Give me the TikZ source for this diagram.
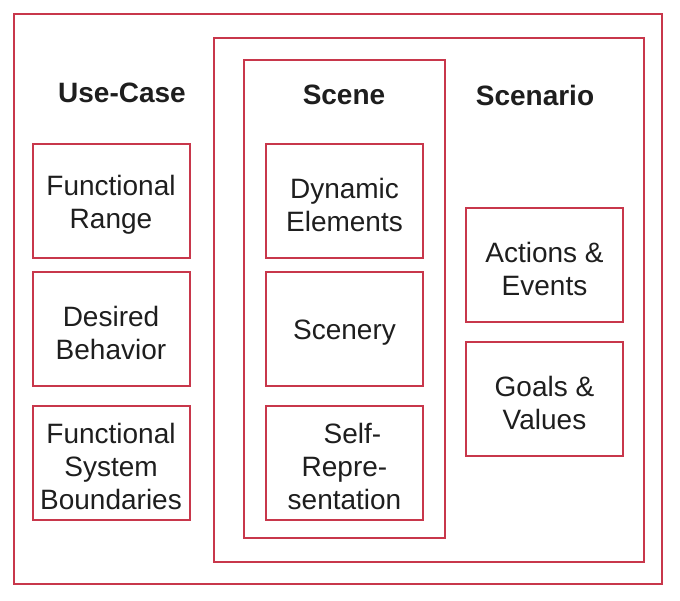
\documentclass[tikz,border=0pt]{standalone}
\usepackage{fontspec}
\setmainfont{Liberation Sans}
\definecolor{boxred}{RGB}{200,55,75}
\definecolor{txt}{RGB}{30,30,30}
\begin{document}
\begin{tikzpicture}[x=1pt,y=-1pt,
  frame/.style={draw=boxred,line width=2pt,rectangle,inner sep=0pt},
  item/.style={frame,minimum width=157pt,minimum height=114pt},
  lbl/.style={align=center,text=txt,font=\fontsize{28}{33}\selectfont,inner sep=0pt},
  title/.style={text=txt,font=\fontsize{28}{33}\selectfont\bfseries,inner sep=0pt}]
\useasboundingbox (0,0) rectangle (680,600);
% containers
\node[frame,minimum width=648pt,minimum height=570pt] (outer) at (338,299) {};
\node[frame,minimum width=430pt,minimum height=524pt] (scenario) at (429,300) {};
\node[frame,minimum width=201pt,minimum height=478pt] (scene) at (344.5,299) {};
% titles
\node[title] (tuc) at (122,93) {Use-Case};
\node[title] (tscene) at (344,95) {Scene};
\node[title] (tscen) at (535,95) {Scenario};
% use-case items
\node[item] (fr) at (111,201) {};
\node[lbl] (frt) at ([yshift=-4pt]fr.center) {Functional\\Range};
\node[item] (db) at (111,329) {};
\node[lbl] (dbt) at ([yshift=-4pt]db.center) {Desired\\Behavior};
\node[item] (fsb) at (111,463) {};
\node[lbl] (fsbt) at ([yshift=-3pt]fsb.center) {Functional\\System\\Boundaries};
% scene items
\node[item] (de) at (344.5,201) {};
\node[lbl] (det) at ([yshift=-4pt]de.center) {Dynamic\\Elements};
\node[item] (sc) at (344.5,329) {};
\node[lbl] (sct) at ([yshift=-4pt]sc.center) {Scenery};
\node[item] (sr) at (344.5,463) {};
\node[lbl] (srt) at ([yshift=-3pt]sr.center) {\hspace*{16pt}Self-\\Repre-\\sentation};
% scenario items
\node[item] (ae) at (544.5,265) {};
\node[lbl] (aet) at ([yshift=-4pt]ae.center) {Actions \&\\Events};
\node[item] (gv) at (544.5,399) {};
\node[lbl] (gvt) at ([yshift=-4pt]gv.center) {Goals \&\\Values};
\end{tikzpicture}
\end{document}
